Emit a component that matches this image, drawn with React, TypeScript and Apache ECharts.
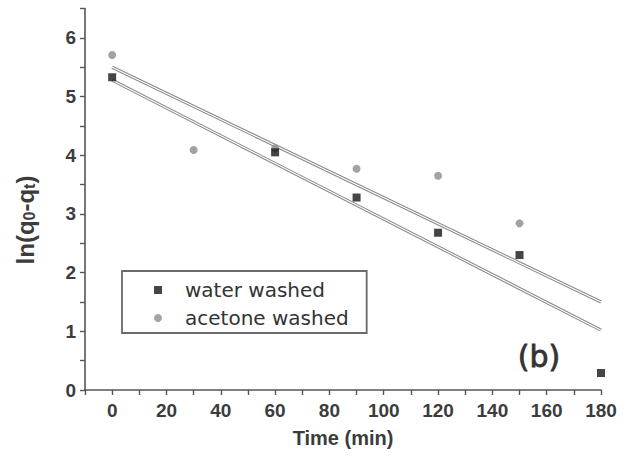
import React, { useEffect, useRef } from "react";
import * as echarts from "echarts";

// Pseudo-first-order kinetics: ln(q0 - qt) against contact time
const timeWater = [0, 60, 90, 120, 150, 180];
const lnWater = [5.33, 4.05, 3.28, 2.68, 2.3, 0.29];
const timeAcetone = [0, 30, 60, 90, 120, 150];
const lnAcetone = [5.71, 4.09, 4.12, 3.77, 3.65, 2.84];

// Linear fits (end points over the time range)
const fitTime = [0, 180];
const fitWater = [5.28, 1.02];
const fitAcetone = [5.5, 1.5];

const xTicks = [0, 20, 40, 60, 80, 100, 120, 140, 160, 180];
const yTicks = [0, 1, 2, 3, 4, 5, 6];

const labelFont = "'Liberation Sans', Arial, sans-serif";

const pairs = (xs: number[], ys: number[]) => xs.map((x, i) => [x, ys[i]]);

export default function App() {
  const ref = useRef<HTMLDivElement>(null);

  useEffect(() => {
    if (!ref.current) return;
    const chart = echarts.init(ref.current, null, { renderer: "svg" });

    const fitLine = (name: string, ys: number[]) => [
      {
        name: name + " fit",
        type: "line",
        data: pairs(fitTime, ys),
        showSymbol: false,
        silent: true,
        z: 2,
        lineStyle: { color: "#8a8a8a", width: 3.2 },
      },
      {
        name: name + " fit core",
        type: "line",
        data: pairs(fitTime, ys),
        showSymbol: false,
        silent: true,
        z: 3,
        lineStyle: { color: "#ffffff", width: 1.1 },
      },
    ];

    chart.setOption({
      animation: false,
      backgroundColor: "#ffffff",
      grid: { left: 85, right: 32, top: 8.6, bottom: 68, containLabel: false },
      xAxis: {
        type: "value",
        min: -10,
        max: 180,
        interval: 10,
        name: "Time (min)",
        nameLocation: "middle",
        nameGap: 38,
        nameTextStyle: {
          fontFamily: labelFont,
          fontWeight: "bold",
          fontSize: 20,
          color: "#3c3c3c",
        },
        splitLine: { show: false },
        axisLine: { onZero: false, lineStyle: { color: "#555", width: 1.6 } },
        axisTick: { inside: false, length: 5, lineStyle: { color: "#555", width: 1.4 } },
        axisLabel: {
          margin: 11,
          fontFamily: labelFont,
          fontWeight: "bold",
          fontSize: 19,
          color: "#3c3c3c",
          formatter: (v: number) => (xTicks.includes(v) ? String(v) : ""),
        },
      },
      yAxis: {
        type: "value",
        min: 0,
        max: 6.5,
        interval: 0.5,
        splitLine: { show: false },
        axisLine: { onZero: false, lineStyle: { color: "#555", width: 1.6 } },
        axisTick: { inside: false, length: 5, lineStyle: { color: "#555", width: 1.4 } },
        axisLabel: {
          margin: 9,
          fontFamily: labelFont,
          fontWeight: "bold",
          fontSize: 19,
          color: "#3c3c3c",
          formatter: (v: number) => (yTicks.includes(v) ? String(v) : ""),
        },
      },
      legend: {
        data: [
          { name: "water washed", icon: "rect" },
          { name: "acetone washed", icon: "circle" },
        ],
        orient: "vertical",
        left: 122,
        top: 271,
        padding: [9, 18, 5, 32],
        itemGap: 8,
        itemWidth: 8,
        itemHeight: 8,
        borderColor: "#6a6a6a",
        borderWidth: 1.8,
        borderRadius: 0,
        backgroundColor: "#ffffff",
        textStyle: {
          fontFamily: "'DejaVu Sans', sans-serif",
          fontSize: 20,
          color: "#333",
          padding: [0, 0, 0, 18],
        },
      },
      series: [
        ...fitLine("water washed", fitWater),
        ...fitLine("acetone washed", fitAcetone),
        {
          name: "water washed",
          type: "scatter",
          symbol: "rect",
          symbolSize: 8,
          z: 5,
          itemStyle: { color: "#161616" },
          data: pairs(timeWater, lnWater),
        },
        {
          name: "acetone washed",
          type: "scatter",
          symbol: "circle",
          symbolSize: 8,
          z: 4,
          itemStyle: { color: "#8c8c8c" },
          data: pairs(timeAcetone, lnAcetone),
        },
      ],
      graphic: [
        {
          type: "text",
          x: 25,
          y: 220,
          rotation: Math.PI / 2,
          style: {
            text: "ln(q{s|0}-q{s|t})",
            fontFamily: labelFont,
            fontWeight: "bold",
            fontSize: 24,
            fill: "#3c3c3c",
            align: "center",
            verticalAlign: "middle",
            rich: {
              s: {
                fontFamily: labelFont,
                fontWeight: "bold",
                fontSize: 16,
                fill: "#3c3c3c",
                padding: [9, 0, 0, 0],
              },
            },
          },
        },
        {
          type: "text",
          x: 539,
          y: 356,
          style: {
            text: "(b)",
            fontFamily: "'DejaVu Sans', sans-serif",
            fontSize: 30,
            fill: "#333",
            stroke: "#333",
            lineWidth: 0.8,
            align: "center",
            verticalAlign: "middle",
          },
        },
      ],
    });

    return () => chart.dispose();
  }, []);

  return (
    <div
      ref={ref}
      style={{ position: "fixed", left: 0, top: 0, width: 633, height: 458 }}
    />
  );
}
